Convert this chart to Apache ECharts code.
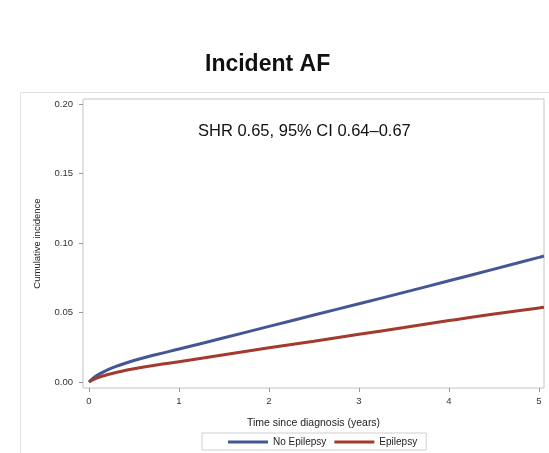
<!DOCTYPE html>
<html><head><meta charset="utf-8">
<script src="https://cdn.jsdelivr.net/npm/echarts@6/dist/echarts.min.js"></script>
<style>html,body{margin:0;padding:0;background:#fff}#c{width:549px;height:453px}</style>
</head><body><div id="c"></div>
<script>
const times = [0, 0.05, 0.1, 0.2, 0.3, 0.5, 0.75, 1, 1.5, 2, 2.5, 3, 3.5, 4, 4.5, 5, 5.055];
const noEpilepsy = [0, 0.003, 0.0052, 0.0086, 0.0112, 0.0155, 0.0198, 0.0237, 0.0318, 0.0400, 0.0482, 0.0563, 0.0645, 0.0728, 0.0812, 0.0897, 0.0907];
const epilepsy = [0, 0.0018, 0.0032, 0.0052, 0.0068, 0.0095, 0.0122, 0.0146, 0.0196, 0.0246, 0.0294, 0.0343, 0.0392, 0.0442, 0.0490, 0.0533, 0.0538];
const xTicks = [0, 1, 2, 3, 4, 5];
const yTicks = [0, 0.05, 0.10, 0.15, 0.20];
const seriesNames = ['No Epilepsy', 'Epilepsy'];
const titleText = 'Incident AF';
const noteText = 'SHR 0.65, 95% CI 0.64\u20130.67';

const font = 'Arial, "Liberation Sans", sans-serif';
const chart = echarts.init(document.getElementById('c'), null, {renderer: 'canvas'});
const pairs = (xs, ys) => xs.map((x, i) => [x, ys[i]]);
chart.setOption({
  animation: false,
  backgroundColor: '#fff',
  title: {text: titleText, left: 200, top: 48,
    textStyle: {fontFamily: font, fontSize: 23, fontWeight: 'bold', color: '#111'}},
  graphic: [
    {type: 'rect', left: 18, top: 90, shape: {width: 545, height: 361},
     style: {fill: 'none', stroke: '#e2e2e2', lineWidth: 1}, silent: true, z: -1},
    {type: 'text', left: 198, top: 123,
     style: {text: noteText, font: '16.5px ' + font, fill: '#111'}}
  ],
  legend: {
    data: seriesNames, left: 202, top: 433, itemWidth: 40, itemHeight: 3, itemGap: 8,
    icon: 'rect',
    borderColor: '#cfcfcf', borderWidth: 1, padding: [4, 9, 3, 26],
    textStyle: {fontFamily: font, fontSize: 10, color: '#222'}
  },
  grid: {left: 83, top: 99, width: 461, height: 289, show: true, borderColor: '#c4c4c4', borderWidth: 1,
    outerBoundsMode: 'none', containLabel: false},
  xAxis: {
    type: 'value', min: -0.0667, max: 5.0556,
    name: 'Time since diagnosis (years)', nameLocation: 'middle', nameGap: 30,
    nameTextStyle: {fontFamily: font, fontSize: 10.5, color: '#222'},
    axisLine: {show: false, onZero: false},
    axisTick: {show: true, length: 4, lineStyle: {color: '#999'}, customValues: xTicks},
    axisLabel: {customValues: xTicks, margin: 8, fontFamily: font, fontSize: 9.5, color: '#333'},
    splitLine: {show: false}
  },
  yAxis: {
    type: 'value', min: -0.0043, max: 0.2036,
    name: 'Cumulative incidence', nameLocation: 'middle', nameGap: 41,
    nameTextStyle: {fontFamily: font, fontSize: 9.5, color: '#222'},
    axisLine: {show: false, onZero: false},
    axisTick: {show: true, length: 4, lineStyle: {color: '#999'}, customValues: yTicks},
    axisLabel: {customValues: yTicks, margin: 10, fontFamily: font, fontSize: 9.5, color: '#333',
      formatter: v => v.toFixed(2)},
    splitLine: {show: false}
  },
  series: [
    {name: seriesNames[0], type: 'line', data: pairs(times, noEpilepsy), smooth: true,
     symbol: 'none', lineStyle: {color: '#445694', width: 3}, itemStyle: {color: '#445694'}},
    {name: seriesNames[1], type: 'line', data: pairs(times, epilepsy), smooth: true,
     symbol: 'none', lineStyle: {color: '#A23A2E', width: 3}, itemStyle: {color: '#A23A2E'}}
  ]
});
</script></body></html>
